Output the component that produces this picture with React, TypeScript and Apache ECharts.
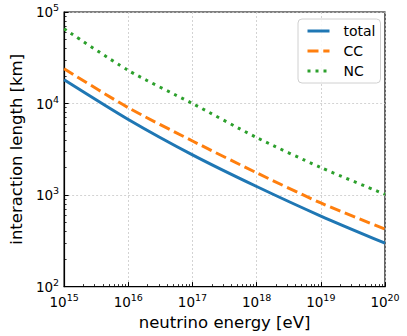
import React, { useEffect, useRef } from "react";
import * as echarts from "echarts";

const energies = [1e15, 1e16, 1e17, 1e18, 1e19, 1e20];
const totalLen = [18200, 6700, 2750, 1240, 590, 298];
const ccLen = [24000, 9000, 3900, 1750, 820, 425];
const ncLen = [65500, 23000, 10000, 4250, 2000, 1020];

const xMajor = [1e15, 1e16, 1e17, 1e18, 1e19, 1e20];
const yMajor = [1e2, 1e3, 1e4, 1e5];

function minors(lo: number, hi: number) {
  const out: number[] = [];
  for (let p = lo; p < hi; p++) {
    for (let k = 2; k <= 9; k++) out.push(k * Math.pow(10, p));
  }
  return out;
}
const xMinor = minors(15, 20);
const yMinor = minors(2, 5);

const FONT = "DejaVu Sans";

function expLabel(v: number) {
  const e = Math.round(Math.log10(v));
  return `{b|10}{s|${e}}`;
}

const rich = {
  b: { fontSize: 13.5, fontFamily: FONT, color: "#000" },
  s: { fontSize: 9.5, fontFamily: FONT, color: "#000", padding: [0, 0, 9, 0] },
};

export default function App() {
  const ref = useRef<HTMLDivElement>(null);
  useEffect(() => {
    if (!ref.current) return;
    const chart = echarts.init(ref.current, null, { renderer: "svg" });
    const pair = (ys: number[]) => energies.map((x, i) => [x, ys[i]]);
    chart.setOption({
      animation: false,
      backgroundColor: "#fff",
      grid: {
        left: 55,
        right: 22,
        top: 12,
        bottom: 48,
        show: true,
        borderColor: "#000",
        borderWidth: 1.2,
        backgroundColor: "transparent",
      },
      legend: {
        left: 298,
        top: 19,
        orient: "vertical",
        itemWidth: 22,
        itemHeight: 14,
        itemGap: 6,
        padding: [5, 5, 5, 8],
        borderColor: "#d0d0d0",
        borderWidth: 1,
        borderRadius: 4,
        backgroundColor: "rgba(255,255,255,0.85)",
        itemStyle: { opacity: 0 },
        lineStyle: { width: 3 },
        textStyle: {
          fontFamily: FONT,
          fontSize: 14,
          color: "#000",
          lineHeight: 14,
          padding: [0, 0, 0, 9],
        },
        data: ["total", "CC", "NC"],
      },
      xAxis: [
        {
          type: "log",
          logBase: 10,
          min: 1e15,
          max: 1e20,
          name: "neutrino energy [eV]",
          nameLocation: "middle",
          nameGap: 24,
          nameTextStyle: { fontFamily: FONT, fontSize: 16.5, color: "#000" },
          axisLine: { show: true, lineStyle: { color: "#000", width: 1.2 } },
          axisTick: {
            show: true,
            inside: true,
            length: 4.5,
            lineStyle: { color: "#000" },
            customValues: xMajor,
          },
          axisLabel: {
            margin: 6,
            formatter: (v: number) => expLabel(v),
            rich,
            customValues: xMajor,
          },
          splitLine: {
            show: true,
            lineStyle: { color: "#c8c8c8", type: [2, 2], width: 0.8 },
          },
        },
        {
          type: "log",
          logBase: 10,
          min: 1e15,
          max: 1e20,
          position: "bottom",
          axisLine: { show: false },
          axisLabel: { show: false },
          splitLine: { show: false },
          axisTick: {
            show: true,
            inside: true,
            length: 2.5,
            lineStyle: { color: "#000", width: 0.8 },
            customValues: xMinor,
          },
        },
      ],
      yAxis: [
        {
          type: "log",
          logBase: 10,
          min: 1e2,
          max: 1e5,
          name: "interaction length [km]",
          nameLocation: "middle",
          nameGap: 32,
          nameTextStyle: { fontFamily: FONT, fontSize: 16.5, color: "#000" },
          axisLine: { show: true, lineStyle: { color: "#000", width: 1.2 } },
          axisTick: {
            show: true,
            inside: true,
            length: 4.5,
            lineStyle: { color: "#000" },
            customValues: yMajor,
          },
          axisLabel: {
            margin: 5,
            formatter: (v: number) => expLabel(v),
            rich,
            customValues: yMajor,
          },
          splitLine: {
            show: true,
            lineStyle: { color: "#c8c8c8", type: [2, 2], width: 0.8 },
          },
        },
        {
          type: "log",
          logBase: 10,
          min: 1e2,
          max: 1e5,
          position: "left",
          axisLine: { show: false },
          axisLabel: { show: false },
          splitLine: { show: false },
          axisTick: {
            show: true,
            inside: true,
            length: 2.5,
            lineStyle: { color: "#000", width: 0.8 },
            customValues: yMinor,
          },
        },
      ],
      series: [
        {
          name: "total",
          type: "line",
          data: pair(totalLen),
          smooth: 0.25,
          symbol: "none",
          color: "#1f77b4",
          lineStyle: { color: "#1f77b4", width: 3 },
          z: 3,
        },
        {
          name: "CC",
          type: "line",
          data: pair(ccLen),
          smooth: 0.25,
          symbol: "none",
          color: "#ff7f0e",
          lineStyle: { color: "#ff7f0e", width: 3, type: [11, 4.8] },
          z: 3,
        },
        {
          name: "NC",
          type: "line",
          data: pair(ncLen),
          smooth: 0.25,
          symbol: "none",
          color: "#2ca02c",
          lineStyle: { color: "#2ca02c", width: 3, type: [3, 5] },
          z: 3,
        },
      ],
    });
    return () => chart.dispose();
  }, []);
  return (
    <div
      ref={ref}
      style={{ position: "fixed", left: 0, top: 0, width: 407, height: 336 }}
    />
  );
}
